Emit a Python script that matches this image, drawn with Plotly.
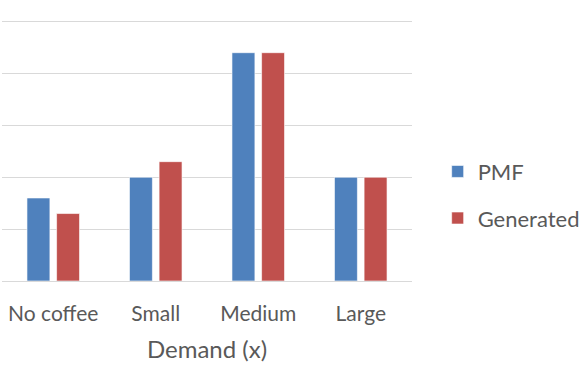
import plotly.graph_objects as go

categories = ["No coffee", "Small", "Medium", "Large"]
pmf_values = [0.16, 0.20, 0.44, 0.20]
generated_values = [0.13, 0.23, 0.44, 0.20]

fig = go.Figure()
fig.add_trace(go.Bar(
    x=categories, y=pmf_values, name="PMF",
    marker=dict(color="#4F81BD", line=dict(color="rgba(255,255,255,0.6)", width=1)),
    legendgroup="a",
))
fig.add_trace(go.Bar(
    x=categories, y=generated_values, name="Generated",
    marker=dict(color="#C0504D", line=dict(color="rgba(255,255,255,0.6)", width=1)),
    legendgroup="b",
))

fig.update_layout(
    width=586, height=368,
    margin=dict(l=2, r=173, t=20, b=87),
    paper_bgcolor="white", plot_bgcolor="white",
    barmode="group", bargap=0.422, bargroupgap=0.226,
    font=dict(family="Lato, Open Sans, sans-serif", size=21, color="#595959"),
    showlegend=True,
    legend=dict(
        x=1.06, y=0.329, xanchor="left", yanchor="middle",
        traceorder="grouped", tracegroupgap=15,
        font=dict(size=22, color="#595959"),
        itemwidth=30,
    ),
    xaxis=dict(
        showgrid=False, showline=False, ticks="",
        ticklabelstandoff=18,
        title=dict(text="Demand (x)", standoff=17, font=dict(size=24, color="#595959")),
        tickfont=dict(size=21, color="#595959"),
    ),
    yaxis=dict(
        range=[0, 0.503], dtick=0.1, showgrid=True, gridcolor="#D9D9D9", gridwidth=1.3,
        showticklabels=False, zeroline=True, zerolinecolor="#D9D9D9", zerolinewidth=1.3,
        showline=False, ticks="",
    ),
)

fig.write_html("out.html")
